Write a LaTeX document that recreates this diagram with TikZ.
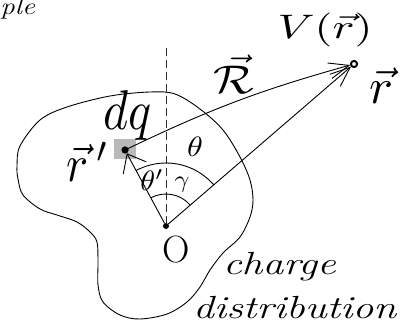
\documentclass[tikz,border=0pt]{standalone}
\usepackage{fontspec}
\usetikzlibrary{arrows.meta}
\begin{document}
\begin{tikzpicture}[x=1pt,y=1pt,
  stroke/.style={line width=0.9pt, line cap=round, line join=round},
  vecline/.style={stroke, -{Straight Barb[length=20pt,width=16pt,line width=0.9pt]}},
  vecshort/.style={stroke, -{Straight Barb[length=16pt,width=26pt,line width=0.9pt]}},
  lbl/.style={inner sep=0pt, outer sep=0pt},
  blackdot/.style={circle, fill=black, inner sep=0pt, minimum size=#1},
  fielddot/.style={circle, draw=black, fill=white, line width=1.8pt, inner sep=0pt, minimum size=6pt},
  chargebox/.style={fill=gray!55, inner sep=0pt, minimum width=22pt, minimum height=20pt},
  axisline/.style={line width=1pt, gray!35!black, dash pattern=on 8pt off 4pt},
]
\useasboundingbox (0,0) rectangle (420,324);

% charge distribution outline
\draw[stroke] plot[smooth cycle, tension=0.55] coordinates {
 (17,158) (20,178) (40,204) (67,217) (110,228) (150,232) (175,230) (200,215)
 (223,194) (240,167) (250,144) (253,124) (250,107) (240,87) (223,71) (210,54)
 (200,37) (187,22) (167,10) (140,5) (120,9) (103,22) (98,39) (98,62) (97,82)
 (90,92) (77,102) (57,109) (40,115) (23,129) (18,145)};

% small charge element
\node[chargebox] (sq) at (125,175) {};

% points
\coordinate (top) at (166,276);
\node[blackdot=6pt] (O) at (166,98) {};
\node[blackdot=7pt] (rp) at (125,174) {};
\node[fielddot] (P) at (354,260) {};

% vertical dashed axis
\draw[axisline] (top) -- (O.center);

% angle arcs
\draw[stroke] (O.center) ++(40.75:63) arc[start angle=40.75, end angle=90, radius=63];
\draw[stroke] (O.center) ++(90:63) arc[start angle=90, end angle=118.3, radius=63];
\draw[stroke] (O.center) ++(40.75:32) arc[start angle=40.75, end angle=118.3, radius=32];

% vectors
\draw[vecshort] (O) -- (rp);
\draw[vecline] (O) -- (P);
\draw[vecline] (rp) to[bend left=5] (P);

% redraw dots on top
\node[blackdot=7pt] at (rp) {};
\node[fielddot] at (P) {};

% labels
\node[lbl, anchor=base east, font=\fontsize{24}{24}\selectfont\itshape] (ple) at (35,309) {\scalebox{1.2}[1]{ple}};
\node[lbl] (Vlab) at (325,294) {\scalebox{4.6}[3.4]{$V(\vec r)$}};
\node[lbl] (rlabel) at (381,238) {\scalebox{5}[5]{$\vec r$}};
\node[lbl] (Rlab) at (234,250) {\scalebox{4.8}[4]{$\vec{\mathcal{R}}$}};
\node[lbl] (dqlab) at (128,208) {\scalebox{4.8}[5.6]{$dq$}};
\node[lbl] (rplab) at (88,162) {\scalebox{4.6}[5.2]{$\vec r\,'$}};
\node[lbl] (thlab) at (195,177) {\scalebox{3.2}[2.8]{$\theta$}};
\node[lbl] (thplab) at (152,144) {\scalebox{3}[2.8]{$\theta'$}};
\node[lbl] (galab) at (182,139) {\scalebox{2.6}[2.4]{$\gamma$}};
\node[lbl, font=\fontsize{38}{38}\selectfont] (Olab) at (176,74) {O};
\node[lbl, anchor=base west, font=\fontsize{32}{32}\selectfont\itshape] (ch) at (223,50) {\scalebox{1.3}[1]{charge}};
\node[lbl, anchor=base west, font=\fontsize{32}{32}\selectfont\itshape] (dist) at (193,6) {\scalebox{1.3}[1]{distribution}};
\end{tikzpicture}
\end{document}
